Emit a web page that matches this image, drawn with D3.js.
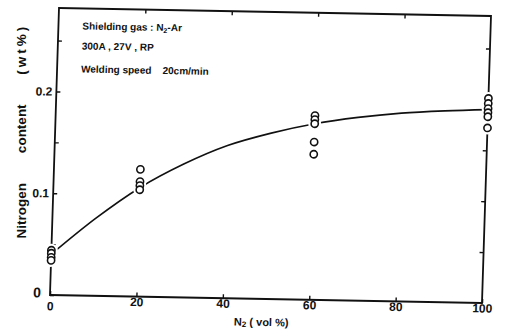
<!DOCTYPE html>
<html>
<head>
<meta charset="utf-8">
<script src="https://cdn.jsdelivr.net/npm/d3@7"></script>
<style>
  html, body { margin: 0; padding: 0; background: #fff; }
  svg { display: block; }
  text { font-family: "Liberation Sans", Arial, sans-serif; font-weight: bold; fill: #111; }
</style>
</head>
<body>
<svg id="chart" width="506" height="329"></svg>
<script>
// N2 fraction in the shielding gas (vol %) and measured weld-metal nitrogen (wt %)
const n2Levels = [0, 20, 60, 100];
const nitrogenAt0 = [0.044, 0.041, 0.037, 0.034];
const nitrogenAt20 = [0.125, 0.113, 0.109, 0.105];
const nitrogenAt60 = [0.181, 0.177, 0.173, 0.155, 0.143];
const nitrogenAt100 = [0.201, 0.196, 0.191, 0.187, 0.183, 0.172];

// Fitted trend through the measurements
const trendX = [0, 10, 20, 30, 40, 50, 60, 70, 80, 90, 100];
const trendY = [0.040, 0.076, 0.107, 0.131, 0.150, 0.163, 0.173, 0.180, 0.185, 0.188, 0.190];

const xTicks = [0, 20, 40, 60, 80, 100];
const yTicks = [0, 0.05, 0.1, 0.15, 0.2, 0.25];
const yTickLabels = ["0", "", "0.1", "", "0.2", ""];

const notes = ["300A , 27V , RP", "Welding speed    20cm/min"];

const W = 432, H = 287;
const svg = d3.select("#chart");
// plot frame, slightly skewed like the printed figure
const g = svg.append("g").attr("transform", "matrix(1,0.0185,-0.0314,1,59,8)");

const x = d3.scaleLinear().domain([0, 100]).range([0, W]);
const y = d3.scaleLinear().domain([0, 0.282]).range([H, 0]);

function styleAxis(sel) {
  sel.select(".domain").remove();
  sel.selectAll(".tick line").attr("stroke", "#111").attr("stroke-width", 1.4);
  sel.selectAll("text").style("font-size", "12px").attr("fill", "#111");
}

g.append("g").attr("transform", `translate(0,${H})`)
  .call(d3.axisBottom(x).tickValues(xTicks).tickSizeInner(-4).tickSizeOuter(0).tickPadding(1))
  .call(styleAxis)
  .call(s => s.selectAll(".tick").filter(d => d === 0).select("text").attr("dy", "1.2em"));

g.append("g")
  .call(d3.axisTop(x).tickValues(xTicks.slice(1, -1)).tickSizeInner(-4).tickSizeOuter(0).tickFormat(""))
  .call(styleAxis);

g.append("g")
  .call(d3.axisLeft(y).tickValues(yTicks).tickSizeInner(-4).tickSizeOuter(0).tickPadding(4)
    .tickFormat((d, i) => yTickLabels[i]))
  .call(styleAxis)
  .call(s => s.selectAll(".tick").filter(d => d === 0).select("text")
    .style("font-size", "14px").attr("x", -9).attr("dy", "0.15em"));

g.append("g").attr("transform", `translate(${W},0)`)
  .call(d3.axisRight(y).tickValues(yTicks.slice(1)).tickSizeInner(-4).tickSizeOuter(0).tickFormat(""))
  .call(styleAxis);

// frame
g.append("rect").attr("x", 0).attr("y", 0).attr("width", W).attr("height", H)
  .attr("fill", "none").attr("stroke", "#111").attr("stroke-width", 1.8);

// trend curve
const trend = trendX.map((d, i) => [d, trendY[i]]);
g.append("path").datum(trend)
  .attr("fill", "none").attr("stroke", "#111").attr("stroke-width", 1.6)
  .attr("d", d3.line().x(d => x(d[0])).y(d => y(d[1])).curve(d3.curveMonotoneX));

// measurements
const groups = [nitrogenAt0, nitrogenAt20, nitrogenAt60, nitrogenAt100];
const pts = [];
groups.forEach((vals, i) => vals.forEach(v => pts.push([n2Levels[i], v])));

g.append("g").selectAll("circle").data(pts).join("circle")
  .attr("cx", d => x(d[0])).attr("cy", d => y(d[1])).attr("r", 6.5).attr("fill", "#fff");
g.append("g").selectAll("circle").data(pts).join("circle")
  .attr("cx", d => x(d[0])).attr("cy", d => y(d[1])).attr("r", 3.6)
  .attr("fill", "#fff").attr("stroke", "#111").attr("stroke-width", 1.6);

// test conditions
const t0 = g.append("text").attr("x", 24).attr("y", 21).style("font-size", "10px");
t0.append("tspan").text("Shielding gas : N");
t0.append("tspan").attr("dy", 2).style("font-size", "7px").text("2");
t0.append("tspan").attr("dy", -2).text("-Ar");
notes.forEach((t, i) => g.append("text").attr("x", 24).attr("y", 41 + i * 23)
  .style("font-size", "10px").attr("xml:space", "preserve").text(t));

// axis titles
const xt = g.append("text").attr("x", x(50) - 4).attr("y", H + 27).attr("text-anchor", "middle")
  .style("font-size", "11px").attr("xml:space", "preserve");
xt.append("tspan").text("N");
xt.append("tspan").attr("dy", 1.5).style("font-size", "8px").text("2");
xt.append("tspan").attr("dy", -1.5).text(" ( vol %)");

const yt = svg.append("text").attr("transform", "translate(26,131) rotate(-90)")
  .attr("text-anchor", "middle").style("font-size", "13.5px")
  .attr("xml:space", "preserve");
yt.append("tspan").style("word-spacing", "26px").text("Nitrogen content ");
yt.append("tspan").style("letter-spacing", "3px").text("(wt%)");
</script>
</body>
</html>
